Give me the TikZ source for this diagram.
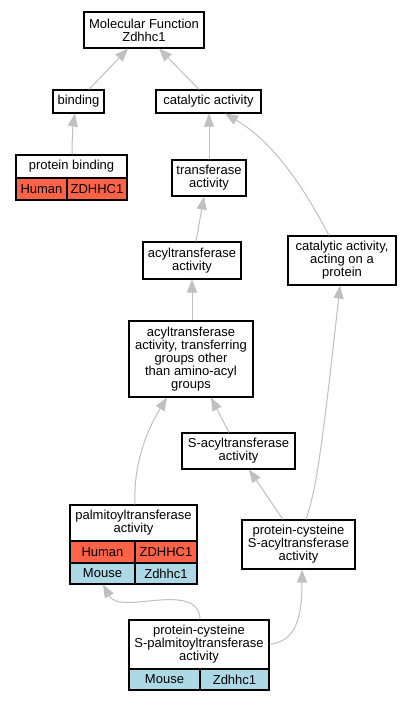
\documentclass[tikz,border=0pt]{standalone}
\usepackage{fontspec}
\setmainfont{Liberation Sans}
\usetikzlibrary{arrows.meta}
\definecolor{edgegray}{HTML}{C0C0C0}
\definecolor{human}{HTML}{FF6347}
\definecolor{mouse}{HTML}{ADD8E6}
\newcommand\lblfont{\fontsize{13}{13}\selectfont}
\tikzset{
  box/.style={draw=black, line width=1.1pt, fill=white, inner sep=0pt, align=center, font=\lblfont},
  hcell/.style={box, fill=human},
  mcell/.style={box, fill=mouse},
  edge/.style={draw=edgegray, line width=1pt, -{Triangle[length=13pt,width=10pt,fill=edgegray]}}
}
\begin{document}
\begin{tikzpicture}[x=1pt,y=-1pt]
\useasboundingbox[fill=white] (0,0) rectangle (411,701);
% nodes
\node[box, minimum width=120pt, minimum height=36pt] (mf) at (144,30) {Molecular Function\\Zdhhc1};
\node[box, minimum width=51pt, minimum height=23pt] (bind) at (78.5,101.5) {binding};
\node[box, minimum width=105pt, minimum height=23pt] (cat) at (208.5,101.5) {catalytic activity};
\node[box, minimum width=111pt, minimum height=23pt] (pbh) at (71.5,166.5) {protein binding};
\node[hcell, minimum width=51pt, minimum height=22pt] (pbh1) at (41.5,189) {Human};
\node[hcell, minimum width=60pt, minimum height=22pt] (pbh2) at (97,189) {ZDHHC1};
\node[box, minimum width=74pt, minimum height=36pt] (trans) at (209,178) {transferase\\activity};
\node[box, minimum width=98pt, minimum height=37pt] (acyl) at (192,260.5) {acyltransferase\\activity};
\node[box, minimum width=108pt, minimum height=49pt] (catp) at (342,260.5) {catalytic activity,\\acting on a\\protein};
\node[box, minimum width=124pt, minimum height=76pt] (grp) at (191,359) {acyltransferase\\activity, transferring\\groups other\\than amino-acyl\\groups};
\node[box, minimum width=113pt, minimum height=36pt] (sacyl) at (238.5,451) {S-acyltransferase\\activity};
\node[box, minimum width=127pt, minimum height=36pt] (palh) at (133.5,523) {palmitoyltransferase\\activity};
\node[hcell, minimum width=65pt, minimum height=22pt] (palh1) at (102.5,552) {Human};
\node[hcell, minimum width=62pt, minimum height=22pt] (palh2) at (166,552) {ZDHHC1};
\node[mcell, minimum width=65pt, minimum height=21pt] (palm1) at (102.5,573.5) {Mouse};
\node[mcell, minimum width=62pt, minimum height=21pt] (palm2) at (166,573.5) {Zdhhc1};
\node[box, minimum width=113pt, minimum height=49pt] (pcsa) at (298.5,544.5) {protein-cysteine\\S-acyltransferase\\activity};
\node[box, minimum width=140pt, minimum height=49pt] (pcph) at (199,644.5) {protein-cysteine\\S-palmitoyltransferase\\activity};
\node[mcell, minimum width=71pt, minimum height=21pt] (pcpm1) at (164.5,679.5) {Mouse};
\node[mcell, minimum width=69pt, minimum height=21pt] (pcpm2) at (234.5,679.5) {Zdhhc1};
% edges
\draw[edge] ([xshift=10.5pt]bind.north) -- ([xshift=-16pt]mf.south);
\draw[edge] ([xshift=-9.5pt]cat.north) -- ([xshift=15pt]mf.south);
\draw[edge] ([xshift=0.5pt]pbh.north) .. controls (72,140) and (73,125) .. ([xshift=-3.5pt]bind.south);
\draw[edge] (trans.north) -- ([xshift=0.5pt]cat.south);
\draw[edge] ([xshift=-13pt]catp.north) .. controls (300,180) and (270,140) .. ([xshift=16.5pt]cat.south);
\draw[edge] ([xshift=4pt]acyl.north) -- ([xshift=-5pt]trans.south);
\draw[edge] ([xshift=1pt]grp.north) -- (acyl.south);
\draw[edge] ([xshift=-9.5pt]sacyl.north) -- ([xshift=20pt]grp.south);
\draw[edge] ([xshift=1.5pt]palh.north) .. controls (133,460) and (150,425) .. ([xshift=-24pt]grp.south);
\draw[edge] ([xshift=-15.5pt]pcsa.north) -- ([xshift=10.5pt]sacyl.south);
\draw[edge] ([xshift=7.5pt]pcsa.north) .. controls (316,490) and (322,450) .. ([xshift=-2pt]catp.south);
\draw[edge] ([xshift=1pt]pcph.north) .. controls (200,603) and (185,598) .. (160,600) .. controls (135,602) and (115,606) .. ([xshift=0.5pt]palm1.south);
\draw[edge] (pcph.east) .. controls (295,641) and (302,620) .. ([xshift=3.5pt]pcsa.south);
\end{tikzpicture}
\end{document}
